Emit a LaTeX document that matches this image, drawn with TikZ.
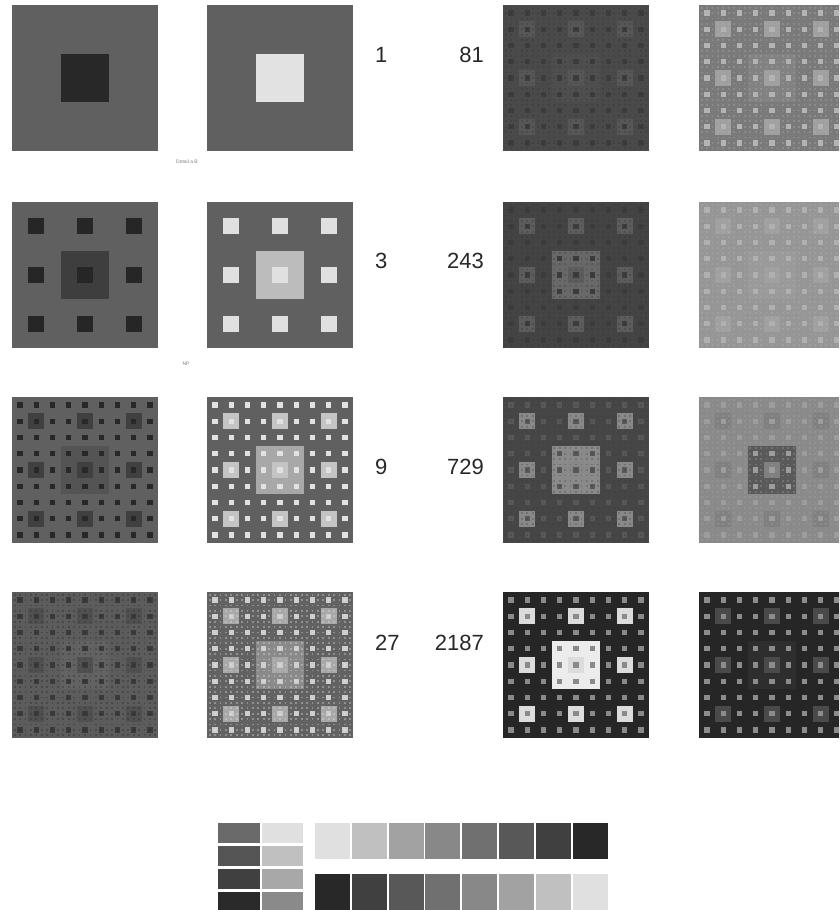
\documentclass[tikz,border=0pt]{standalone}
\usepackage{fontspec}
\setmainfont{Liberation Sans}
\tikzset{
  gv/.style={fill={rgb,255:red,#1;green,#1;blue,#1}},
  lab/.style={font=\fontsize{22}{22}\selectfont, text={rgb,255:red,40;green,40;blue,40}, inner sep=0pt},
  tinytext/.style={font=\fontsize{5}{5}\selectfont, text=black!50, inner sep=0pt}
}
% #1 x, #2 y, #3 bg, #4 level1, #5 level2, #6 level3, #7 level4 options, #8 number of levels
\newcommand\carpet[8]{%
  \fill[gv=#3] (#1,#2) rectangle ++(146,146);
  \fill[gv=#4] ({#1+48.667},{#2+48.667}) rectangle ++(48.667,48.667);
  \ifnum#8>1\relax
    \foreach \i in {0,1,2}{\foreach \j in {0,1,2}{%
      \fill[gv=#5] ({#1+\i*48.667+16.222},{#2+\j*48.667+16.222}) rectangle ++(16.222,16.222);}}%
  \fi
  \ifnum#8>2\relax
    \foreach \i in {0,...,8}{\foreach \j in {0,...,8}{%
      \fill[gv=#6] ({#1+\i*16.222+5.407},{#2+\j*16.222+5.407}) rectangle ++(5.407,5.407);}}%
  \fi
  \ifnum#8>3\relax
    \foreach \i in {0,...,26}{\foreach \j in {0,...,26}{%
      \fill[#7] ({#1+\i*5.407+1.802},{#2+\j*5.407+1.802}) rectangle ++(1.802,1.802);}}%
  \fi
}
\begin{document}
\begin{tikzpicture}[x=1pt,y=-1pt]
\path[use as bounding box, fill=white] (0,0) rectangle (839,910);
\clip (0,0) rectangle (839,910);

% row 1 : 1 and 81
\carpet{12}{5}{96}{40}{0}{0}{}{1}
\carpet{207}{5}{96}{226}{0}{0}{}{1}
\carpet{503}{5}{74}{78}{86}{60}{gv=50,fill opacity=0.3}{4}
\carpet{699}{5}{122}{130}{160}{180}{gv=175,fill opacity=0.35}{4}

% row 2 : 3 and 243
\carpet{12}{202}{96}{62}{38}{0}{}{2}
\carpet{207}{202}{96}{188}{224}{0}{}{2}
\carpet{503}{202}{68}{104}{92}{60}{gv=50,fill opacity=0.3}{4}
\carpet{699}{202}{150}{154}{160}{176}{gv=180,fill opacity=0.3}{4}

% row 3 : 9 and 729
\carpet{12}{397}{96}{84}{64}{40}{}{3}
\carpet{207}{397}{96}{168}{196}{226}{}{3}
\carpet{503}{397}{70}{138}{136}{88}{gv=60,fill opacity=0.3}{4}
\carpet{699}{397}{138}{90}{128}{156}{gv=170,fill opacity=0.3}{4}

% row 4 : 27 and 2187
\carpet{12}{592}{92}{98}{80}{58}{gv=40,fill opacity=0.35}{4}
\carpet{207}{592}{98}{138}{168}{205}{gv=230,fill opacity=0.35}{4}
\carpet{503}{592}{38}{236}{220}{138}{}{3}
\carpet{699}{592}{38}{46}{74}{140}{}{3}

% labels
\node[lab, anchor=west] (n1) at (375,55) {1};
\node[lab, anchor=west] (n3) at (375,261) {3};
\node[lab, anchor=west] (n9) at (375,467) {9};
\node[lab, anchor=west] (n27) at (375,643) {27};
\node[lab, anchor=east] (n81) at (484,55) {81};
\node[lab, anchor=east] (n243) at (484,261) {243};
\node[lab, anchor=east] (n729) at (484,467) {729};
\node[lab, anchor=east] (n2187) at (484,643) {2187};

\node[tinytext] (t1) at (187,162) {Detail a B};
\node[tinytext] (t2) at (186,364) {NP};

% legend block
\foreach \c [count=\r from 0] in {106,85,64,42}{
  \fill[gv=\c] (218,{823+23*\r}) rectangle ++(42,20);
}
\foreach \c [count=\r from 0] in {224,192,168,138}{
  \fill[gv=\c] (262,{823+23*\r}) rectangle ++(41,20);
}
% legend strips
\foreach \c [count=\k from 0] in {224,192,162,136,112,88,64,40}{
  \fill[gv=\c] ({315+36.8*\k},823) rectangle ++(35,36);
}
\foreach \c [count=\k from 0] in {40,64,88,112,136,162,192,224}{
  \fill[gv=\c] ({315+36.8*\k},874) rectangle ++(35,36);
}
\end{tikzpicture}
\end{document}
